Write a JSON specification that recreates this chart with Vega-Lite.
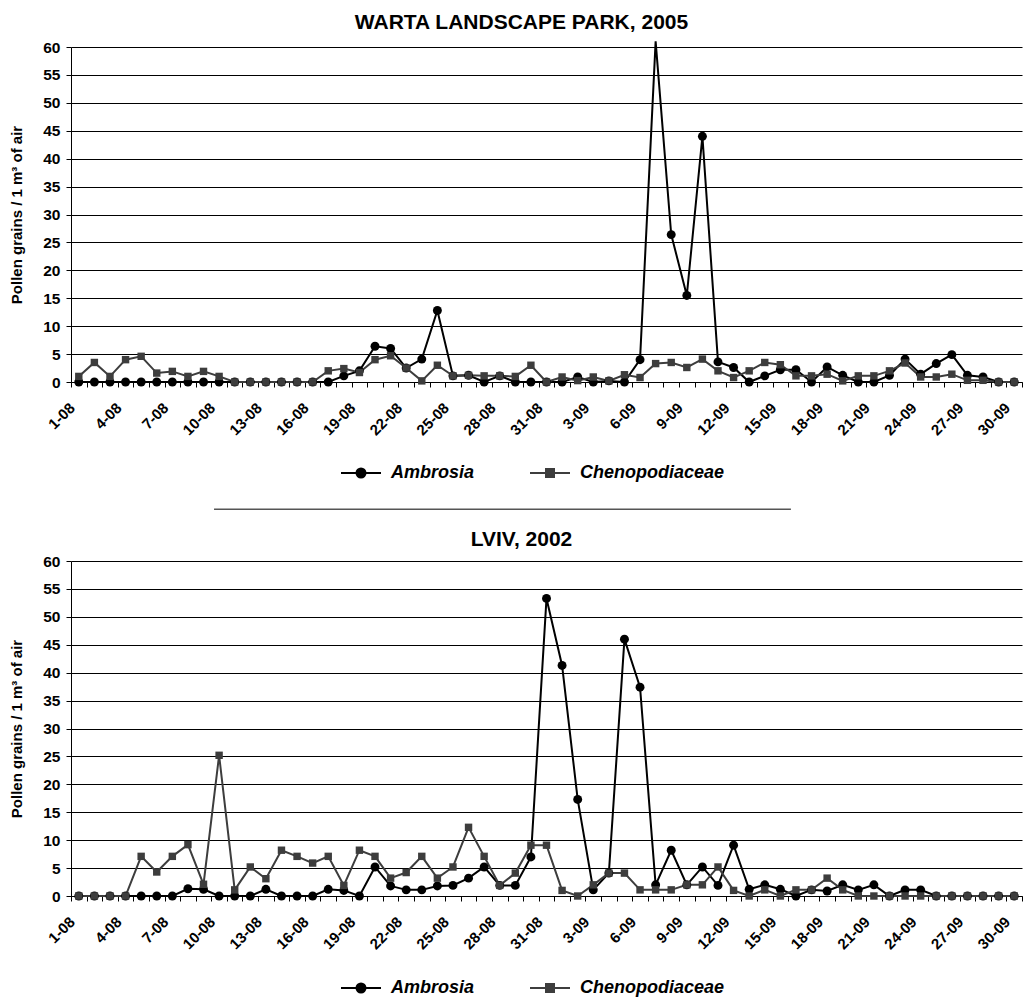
{
  "$schema": "https://vega.github.io/schema/vega-lite/v6.json",
  "background": "white",
  "padding": {"left": 9, "top": 12, "right": 0, "bottom": 0},
  "config": {
    "view": {"stroke": null},
    "font": "Liberation Sans"
  },
  "datasets": {
    "warta": [
      {"d": "1-08", "Ambrosia": 0, "Chenopodiaceae": 1.0},
      {"d": "2-08", "Ambrosia": 0, "Chenopodiaceae": 3.5},
      {"d": "3-08", "Ambrosia": 0, "Chenopodiaceae": 1.0},
      {"d": "4-08", "Ambrosia": 0, "Chenopodiaceae": 4.0},
      {"d": "5-08", "Ambrosia": 0, "Chenopodiaceae": 4.6},
      {"d": "6-08", "Ambrosia": 0, "Chenopodiaceae": 1.6},
      {"d": "7-08", "Ambrosia": 0, "Chenopodiaceae": 1.9},
      {"d": "8-08", "Ambrosia": 0, "Chenopodiaceae": 1.0},
      {"d": "9-08", "Ambrosia": 0, "Chenopodiaceae": 1.9},
      {"d": "10-08", "Ambrosia": 0, "Chenopodiaceae": 1.0},
      {"d": "11-08", "Ambrosia": 0, "Chenopodiaceae": 0},
      {"d": "12-08", "Ambrosia": 0, "Chenopodiaceae": 0},
      {"d": "13-08", "Ambrosia": 0, "Chenopodiaceae": 0},
      {"d": "14-08", "Ambrosia": 0, "Chenopodiaceae": 0},
      {"d": "15-08", "Ambrosia": 0, "Chenopodiaceae": 0},
      {"d": "16-08", "Ambrosia": 0, "Chenopodiaceae": 0},
      {"d": "17-08", "Ambrosia": 0, "Chenopodiaceae": 2.0},
      {"d": "18-08", "Ambrosia": 1.1, "Chenopodiaceae": 2.4},
      {"d": "19-08", "Ambrosia": 2.0, "Chenopodiaceae": 1.7},
      {"d": "20-08", "Ambrosia": 6.4, "Chenopodiaceae": 4.0},
      {"d": "21-08", "Ambrosia": 6.0, "Chenopodiaceae": 4.7},
      {"d": "22-08", "Ambrosia": 2.5, "Chenopodiaceae": 2.5},
      {"d": "23-08", "Ambrosia": 4.1, "Chenopodiaceae": 0.2},
      {"d": "24-08", "Ambrosia": 12.8, "Chenopodiaceae": 3.0},
      {"d": "25-08", "Ambrosia": 1.1, "Chenopodiaceae": 1.1},
      {"d": "26-08", "Ambrosia": 1.2, "Chenopodiaceae": 1.2},
      {"d": "27-08", "Ambrosia": 0, "Chenopodiaceae": 1.1},
      {"d": "28-08", "Ambrosia": 1.1, "Chenopodiaceae": 1.1},
      {"d": "29-08", "Ambrosia": 0, "Chenopodiaceae": 1.0},
      {"d": "30-08", "Ambrosia": 0, "Chenopodiaceae": 3.0},
      {"d": "31-08", "Ambrosia": 0, "Chenopodiaceae": 0},
      {"d": "1-09", "Ambrosia": 0, "Chenopodiaceae": 0.9},
      {"d": "2-09", "Ambrosia": 0.9, "Chenopodiaceae": 0.25},
      {"d": "3-09", "Ambrosia": 0, "Chenopodiaceae": 0.9},
      {"d": "4-09", "Ambrosia": 0.2, "Chenopodiaceae": 0.2},
      {"d": "5-09", "Ambrosia": 0, "Chenopodiaceae": 1.3},
      {"d": "6-09", "Ambrosia": 4.0, "Chenopodiaceae": 0.8},
      {"d": "7-09", "Ambrosia": 61, "Chenopodiaceae": 3.3},
      {"d": "8-09", "Ambrosia": 26.4, "Chenopodiaceae": 3.5},
      {"d": "9-09", "Ambrosia": 15.5, "Chenopodiaceae": 2.6},
      {"d": "10-09", "Ambrosia": 44.0, "Chenopodiaceae": 4.1},
      {"d": "11-09", "Ambrosia": 3.6, "Chenopodiaceae": 2.0},
      {"d": "12-09", "Ambrosia": 2.6, "Chenopodiaceae": 0.8},
      {"d": "13-09", "Ambrosia": 0, "Chenopodiaceae": 2.0},
      {"d": "14-09", "Ambrosia": 1.1, "Chenopodiaceae": 3.5},
      {"d": "15-09", "Ambrosia": 2.2, "Chenopodiaceae": 3.1},
      {"d": "16-09", "Ambrosia": 2.2, "Chenopodiaceae": 1.1},
      {"d": "17-09", "Ambrosia": 0, "Chenopodiaceae": 1.1},
      {"d": "18-09", "Ambrosia": 2.7, "Chenopodiaceae": 1.4},
      {"d": "19-09", "Ambrosia": 1.2, "Chenopodiaceae": 0.2},
      {"d": "20-09", "Ambrosia": 0, "Chenopodiaceae": 1.1},
      {"d": "21-09", "Ambrosia": 0, "Chenopodiaceae": 1.1},
      {"d": "22-09", "Ambrosia": 1.2, "Chenopodiaceae": 2.0},
      {"d": "23-09", "Ambrosia": 4.1, "Chenopodiaceae": 3.4},
      {"d": "24-09", "Ambrosia": 1.4, "Chenopodiaceae": 0.9},
      {"d": "25-09", "Ambrosia": 3.3, "Chenopodiaceae": 0.9},
      {"d": "26-09", "Ambrosia": 4.9, "Chenopodiaceae": 1.4},
      {"d": "27-09", "Ambrosia": 1.2, "Chenopodiaceae": 0.3},
      {"d": "28-09", "Ambrosia": 0.9, "Chenopodiaceae": 0.3},
      {"d": "29-09", "Ambrosia": 0, "Chenopodiaceae": 0},
      {"d": "30-09", "Ambrosia": 0, "Chenopodiaceae": 0}
    ],
    "lviv": [
      {"d": "1-08", "Ambrosia": 0, "Chenopodiaceae": 0},
      {"d": "2-08", "Ambrosia": 0, "Chenopodiaceae": 0},
      {"d": "3-08", "Ambrosia": 0, "Chenopodiaceae": 0},
      {"d": "4-08", "Ambrosia": 0, "Chenopodiaceae": 0},
      {"d": "5-08", "Ambrosia": 0, "Chenopodiaceae": 7.1},
      {"d": "6-08", "Ambrosia": 0, "Chenopodiaceae": 4.3},
      {"d": "7-08", "Ambrosia": 0, "Chenopodiaceae": 7.1},
      {"d": "8-08", "Ambrosia": 1.3, "Chenopodiaceae": 9.2},
      {"d": "9-08", "Ambrosia": 1.2, "Chenopodiaceae": 2.1},
      {"d": "10-08", "Ambrosia": 0, "Chenopodiaceae": 25.2},
      {"d": "11-08", "Ambrosia": 0, "Chenopodiaceae": 1.1},
      {"d": "12-08", "Ambrosia": 0, "Chenopodiaceae": 5.2},
      {"d": "13-08", "Ambrosia": 1.2, "Chenopodiaceae": 3.1},
      {"d": "14-08", "Ambrosia": 0, "Chenopodiaceae": 8.2},
      {"d": "15-08", "Ambrosia": 0, "Chenopodiaceae": 7.1},
      {"d": "16-08", "Ambrosia": 0, "Chenopodiaceae": 5.9},
      {"d": "17-08", "Ambrosia": 1.2, "Chenopodiaceae": 7.1},
      {"d": "18-08", "Ambrosia": 1.0, "Chenopodiaceae": 1.9},
      {"d": "19-08", "Ambrosia": 0, "Chenopodiaceae": 8.2},
      {"d": "20-08", "Ambrosia": 5.2, "Chenopodiaceae": 7.1},
      {"d": "21-08", "Ambrosia": 1.8, "Chenopodiaceae": 3.2},
      {"d": "22-08", "Ambrosia": 1.1, "Chenopodiaceae": 4.2},
      {"d": "23-08", "Ambrosia": 1.1, "Chenopodiaceae": 7.1},
      {"d": "24-08", "Ambrosia": 1.8, "Chenopodiaceae": 3.2},
      {"d": "25-08", "Ambrosia": 1.9, "Chenopodiaceae": 5.2},
      {"d": "26-08", "Ambrosia": 3.2, "Chenopodiaceae": 12.3},
      {"d": "27-08", "Ambrosia": 5.2, "Chenopodiaceae": 7.1},
      {"d": "28-08", "Ambrosia": 1.9, "Chenopodiaceae": 1.9},
      {"d": "29-08", "Ambrosia": 1.9, "Chenopodiaceae": 4.1},
      {"d": "30-08", "Ambrosia": 7.0, "Chenopodiaceae": 9.1},
      {"d": "31-08", "Ambrosia": 53.3, "Chenopodiaceae": 9.1},
      {"d": "1-09", "Ambrosia": 41.3, "Chenopodiaceae": 1.0},
      {"d": "2-09", "Ambrosia": 17.3, "Chenopodiaceae": 0},
      {"d": "3-09", "Ambrosia": 1.1, "Chenopodiaceae": 2.0},
      {"d": "4-09", "Ambrosia": 4.1, "Chenopodiaceae": 4.1},
      {"d": "5-09", "Ambrosia": 46.0, "Chenopodiaceae": 4.1},
      {"d": "6-09", "Ambrosia": 37.4, "Chenopodiaceae": 1.1},
      {"d": "7-09", "Ambrosia": 2.0, "Chenopodiaceae": 1.1},
      {"d": "8-09", "Ambrosia": 8.2, "Chenopodiaceae": 1.1},
      {"d": "9-09", "Ambrosia": 2.0, "Chenopodiaceae": 2.0},
      {"d": "10-09", "Ambrosia": 5.2, "Chenopodiaceae": 2.0},
      {"d": "11-09", "Ambrosia": 1.9, "Chenopodiaceae": 5.2},
      {"d": "12-09", "Ambrosia": 9.1, "Chenopodiaceae": 1.0},
      {"d": "13-09", "Ambrosia": 1.2, "Chenopodiaceae": 0},
      {"d": "14-09", "Ambrosia": 2.0, "Chenopodiaceae": 1.1},
      {"d": "15-09", "Ambrosia": 1.2, "Chenopodiaceae": 0},
      {"d": "16-09", "Ambrosia": 0, "Chenopodiaceae": 1.1},
      {"d": "17-09", "Ambrosia": 1.1, "Chenopodiaceae": 1.1},
      {"d": "18-09", "Ambrosia": 0.9, "Chenopodiaceae": 3.2},
      {"d": "19-09", "Ambrosia": 2.0, "Chenopodiaceae": 1.1},
      {"d": "20-09", "Ambrosia": 1.1, "Chenopodiaceae": 0},
      {"d": "21-09", "Ambrosia": 2.0, "Chenopodiaceae": 0},
      {"d": "22-09", "Ambrosia": 0, "Chenopodiaceae": 0},
      {"d": "23-09", "Ambrosia": 1.1, "Chenopodiaceae": 0},
      {"d": "24-09", "Ambrosia": 1.1, "Chenopodiaceae": 0},
      {"d": "25-09", "Ambrosia": 0, "Chenopodiaceae": 0},
      {"d": "26-09", "Ambrosia": 0, "Chenopodiaceae": 0},
      {"d": "27-09", "Ambrosia": 0, "Chenopodiaceae": 0},
      {"d": "28-09", "Ambrosia": 0, "Chenopodiaceae": 0},
      {"d": "29-09", "Ambrosia": 0, "Chenopodiaceae": 0},
      {"d": "30-09", "Ambrosia": 0, "Chenopodiaceae": 0}
    ]
  },
  "spacing": 18,
  "resolve": {
    "scale": {"color": "independent", "stroke": "independent", "x": "independent", "y": "independent"},
    "legend": {"color": "independent", "stroke": "independent"}
  },
  "vconcat": [
    {
      "width": 951,
      "height": 335,
      "title": {"text": "WARTA LANDSCAPE PARK, 2005", "fontSize": 21, "fontWeight": "bold", "font": "Liberation Sans", "color": "#000000", "offset": 4, "anchor": "middle", "dx": -25},
      "resolve": {"scale": {"x": "independent"}},
      "layer": [
        {
          "data": {"name": "warta"},
          "transform": [{"fold": ["Ambrosia", "Chenopodiaceae"], "as": ["series", "value"]}],
          "encoding": {
            "x": {
              "field": "d", "type": "ordinal", "sort": null,
              "scale": {"type": "band", "paddingInner": 0, "paddingOuter": 0},
              "axis": {
                "title": null, "labelAngle": -45, "labelAlign": "right", "labelBaseline": "middle",
                "labelExpr": "(split(datum.value, '-')[1] == '08' ? (toNumber(split(datum.value, '-')[0]) - 1) % 3 == 0 : toNumber(split(datum.value, '-')[0]) % 3 == 0) ? datum.value : ''",
                "tickBand": "extent", "labelOverlap": false, "labelBound": false,
                "labelFont": "Liberation Sans", "labelFontSize": 15, "labelFontWeight": "bold", "labelColor": "#000000",
                "domainColor": "#000000", "domainWidth": 1, "tickColor": "#000000", "tickSize": 5, "labelPadding": 18, "labelOffset": -7
              }
            },
            "y": {
              "field": "value", "type": "quantitative",
              "scale": {"domain": [0, 60], "nice": false},
              "axis": {
                "title": "Pollen grains / 1 m³ of air", "titleFont": "Liberation Sans", "titleFontSize": 15, "titleFontWeight": "bold", "titleColor": "#000000", "titlePadding": 18,
                "values": [0, 5, 10, 15, 20, 25, 30, 35, 40, 45, 50, 55, 60],
                "labelFont": "Liberation Sans", "labelFontSize": 15.5, "labelFontWeight": "bold", "labelColor": "#000000", "labelPadding": 6,
                "grid": true, "gridColor": "#000000", "gridWidth": 1,
                "domainColor": "#000000", "tickColor": "#000000", "tickSize": 5
              }
            }
          },
          "layer": [
            {
              "transform": [{"filter": "datum.series == 'Ambrosia'"}],
              "mark": {"type": "line", "strokeWidth": 2},
              "encoding": {
                "color": {
                  "field": "series", "type": "nominal",
                  "scale": {"domain": ["Ambrosia"], "range": ["#000000"]},
                  "legend": {
                    "orient": "none", "legendX": 266, "legendY": 417, "padding": 0, "title": null,
                    "labelFont": "Liberation Sans", "labelFontSize": 18, "labelFontWeight": "bold", "labelFontStyle": "italic", "labelColor": "#000000",
                    "symbolType": "M-1,0L7,0M3.9,0A0.9,0.9,0,1,1,2.1,0A0.9,0.9,0,1,1,3.9,0Z",
                    "symbolSize": 100, "symbolStrokeWidth": 2, "symbolFillColor": "#000000", "labelOffset": 36
                  }
                }
              }
            },
            {
              "transform": [{"filter": "datum.series == 'Chenopodiaceae'"}],
              "mark": {"type": "line", "strokeWidth": 2},
              "encoding": {
                "stroke": {
                  "field": "series", "type": "nominal",
                  "scale": {"domain": ["Chenopodiaceae"], "range": ["#3d3d3d"]},
                  "legend": {
                    "orient": "none", "legendX": 455, "legendY": 417, "padding": 0, "title": null,
                    "labelFont": "Liberation Sans", "labelFontSize": 18, "labelFontWeight": "bold", "labelFontStyle": "italic", "labelColor": "#000000",
                    "symbolType": "M-1,0L7,0M2.2,-0.8L3.8,-0.8L3.8,0.8L2.2,0.8Z",
                    "symbolSize": 100, "symbolStrokeWidth": 2, "symbolFillColor": "#3d3d3d", "labelOffset": 36
                  }
                }
              }
            },
            {
              "transform": [{"filter": "datum.series == 'Ambrosia' && datum.value <= 60"}],
              "mark": {"type": "point", "shape": "circle", "filled": true, "opacity": 1, "size": 80, "color": "#000000"}
            },
            {
              "transform": [{"filter": "datum.series == 'Chenopodiaceae' && datum.value <= 60"}],
              "mark": {"type": "point", "shape": "square", "filled": true, "opacity": 1, "size": 55, "color": "#3d3d3d"}
            }
          ]
        },
        {
          "data": {"values": [{"sep": 1}]},
          "mark": {"type": "rule", "stroke": "#555555", "strokeWidth": 1.5},
          "encoding": {
            "x": {"datum": 0.1504, "type": "quantitative", "scale": {"domain": [0, 1]}, "axis": null},
            "x2": {"datum": 0.757},
            "y": {
              "datum": -22.8, "type": "quantitative",
              "scale": {"domain": [0, 60], "nice": false},
              "axis": {
                "title": "Pollen grains / 1 m³ of air", "titleFont": "Liberation Sans", "titleFontSize": 15, "titleFontWeight": "bold", "titleColor": "#000000", "titlePadding": 18,
                "values": [0, 5, 10, 15, 20, 25, 30, 35, 40, 45, 50, 55, 60],
                "labelFont": "Liberation Sans", "labelFontSize": 15.5, "labelFontWeight": "bold", "labelColor": "#000000", "labelPadding": 6,
                "grid": true, "gridColor": "#000000", "gridWidth": 1,
                "domainColor": "#000000", "tickColor": "#000000", "tickSize": 5
              }
            }
          }
        }
      ]
    },
    {
      "width": 951,
      "height": 335,
      "title": {"text": "LVIV, 2002", "fontSize": 21, "fontWeight": "bold", "font": "Liberation Sans", "color": "#000000", "offset": 4, "anchor": "middle", "dx": -25},
      "data": {"name": "lviv"},
      "transform": [{"fold": ["Ambrosia", "Chenopodiaceae"], "as": ["series", "value"]}],
      "encoding": {
        "x": {
          "field": "d", "type": "ordinal", "sort": null,
          "scale": {"type": "band", "paddingInner": 0, "paddingOuter": 0},
          "axis": {
            "title": null, "labelAngle": -45, "labelAlign": "right", "labelBaseline": "middle",
            "labelExpr": "(split(datum.value, '-')[1] == '08' ? (toNumber(split(datum.value, '-')[0]) - 1) % 3 == 0 : toNumber(split(datum.value, '-')[0]) % 3 == 0) ? datum.value : ''",
            "tickBand": "extent", "labelOverlap": false, "labelBound": false,
            "labelFont": "Liberation Sans", "labelFontSize": 15, "labelFontWeight": "bold", "labelColor": "#000000",
            "domainColor": "#000000", "domainWidth": 1, "tickColor": "#000000", "tickSize": 5, "labelPadding": 18, "labelOffset": -7
          }
        },
        "y": {
          "field": "value", "type": "quantitative",
          "scale": {"domain": [0, 60], "nice": false},
          "axis": {
            "title": "Pollen grains / 1 m³ of air", "titleFont": "Liberation Sans", "titleFontSize": 15, "titleFontWeight": "bold", "titleColor": "#000000", "titlePadding": 18,
            "values": [0, 5, 10, 15, 20, 25, 30, 35, 40, 45, 50, 55, 60],
            "labelFont": "Liberation Sans", "labelFontSize": 15.5, "labelFontWeight": "bold", "labelColor": "#000000", "labelPadding": 6,
            "grid": true, "gridColor": "#000000", "gridWidth": 1,
            "domainColor": "#000000", "tickColor": "#000000", "tickSize": 5
          }
        }
      },
      "layer": [
        {
          "transform": [{"filter": "datum.series == 'Ambrosia'"}],
          "mark": {"type": "line", "strokeWidth": 2},
          "encoding": {
            "color": {
              "field": "series", "type": "nominal",
              "scale": {"domain": ["Ambrosia"], "range": ["#000000"]},
              "legend": {
                "orient": "none", "legendX": 266, "legendY": 418, "padding": 0, "title": null,
                "labelFont": "Liberation Sans", "labelFontSize": 18, "labelFontWeight": "bold", "labelFontStyle": "italic", "labelColor": "#000000",
                "symbolType": "M-1,0L7,0M3.9,0A0.9,0.9,0,1,1,2.1,0A0.9,0.9,0,1,1,3.9,0Z",
                "symbolSize": 100, "symbolStrokeWidth": 2, "symbolFillColor": "#000000", "labelOffset": 36
              }
            }
          }
        },
        {
          "transform": [{"filter": "datum.series == 'Chenopodiaceae'"}],
          "mark": {"type": "line", "strokeWidth": 2},
          "encoding": {
            "stroke": {
              "field": "series", "type": "nominal",
              "scale": {"domain": ["Chenopodiaceae"], "range": ["#3d3d3d"]},
              "legend": {
                "orient": "none", "legendX": 455, "legendY": 418, "padding": 0, "title": null,
                "labelFont": "Liberation Sans", "labelFontSize": 18, "labelFontWeight": "bold", "labelFontStyle": "italic", "labelColor": "#000000",
                "symbolType": "M-1,0L7,0M2.2,-0.8L3.8,-0.8L3.8,0.8L2.2,0.8Z",
                "symbolSize": 100, "symbolStrokeWidth": 2, "symbolFillColor": "#3d3d3d", "labelOffset": 36
              }
            }
          }
        },
        {
          "transform": [{"filter": "datum.series == 'Ambrosia' && datum.value <= 60"}],
          "mark": {"type": "point", "shape": "circle", "filled": true, "opacity": 1, "size": 80, "color": "#000000"}
        },
        {
          "transform": [{"filter": "datum.series == 'Chenopodiaceae' && datum.value <= 60"}],
          "mark": {"type": "point", "shape": "square", "filled": true, "opacity": 1, "size": 55, "color": "#3d3d3d"}
        }
      ]
    }
  ]
}
